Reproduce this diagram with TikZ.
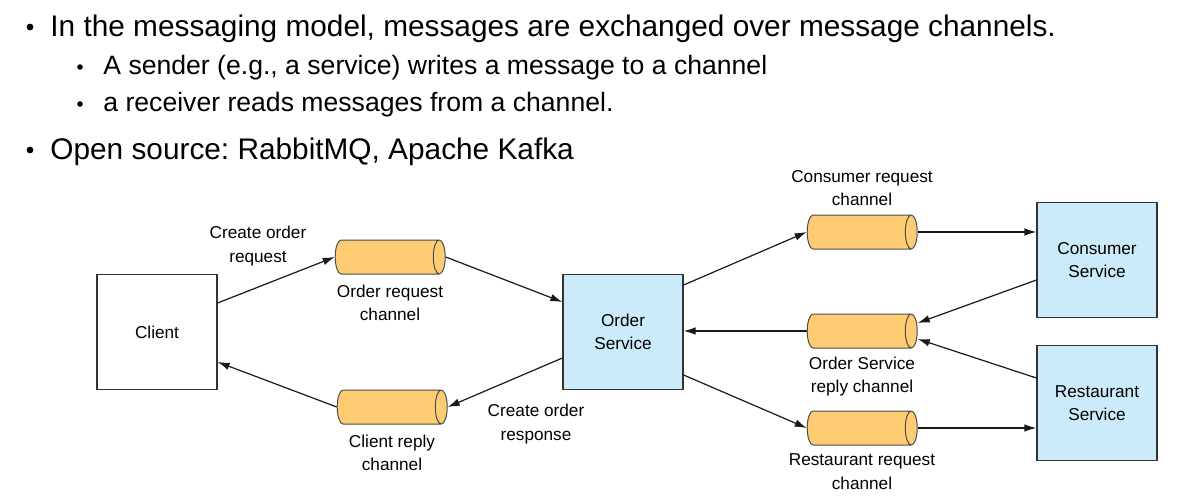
\documentclass[tikz,border=0pt]{standalone}
\usepackage{fontspec}
\setmainfont{Liberation Sans}
\usetikzlibrary{positioning}
\usetikzlibrary{arrows,arrows.meta,shapes}
\usetikzlibrary{calc}
\definecolor{svcblue}{RGB}{204,235,250}
\definecolor{chanorange}{RGB}{254,204,115}
\frenchspacing

\begin{document}
\begin{tikzpicture}
  [x=0.5pt,y=-0.5pt,>={Latex[length=6pt,width=3.8pt]},
  dot/.style={circle,fill=black,inner sep=0pt,minimum size=3.4pt},
  smalldot/.style={circle,fill=black,inner sep=0pt,minimum size=2.8pt},
  mainline/.style={anchor=base west,inner sep=0pt,font=\fontsize{14.9}{17}\selectfont},
  subline/.style={anchor=base west,inner sep=0pt,font=\fontsize{13.3}{15}\selectfont},
  box/.style={rectangle,draw=black!80,fill=white,line width=0.6pt,minimum width=60pt,minimum height=57.5pt,inner sep=0pt,align=center,font=\fontsize{8.6}{11.8}\selectfont},
  service/.style={box,fill=svcblue},
  chan/.style={cylinder,draw=black!70,line width=0.5pt,cylinder uses custom fill,cylinder body fill=chanorange,cylinder end fill=chanorange,minimum width=17pt,minimum height=55pt,aspect=0.35,inner xsep=0pt,inner ysep=8.5pt},
  lbl/.style={align=center,inner sep=0pt,font=\fontsize{8.6}{11.8}\selectfont},
  chanlbl/.style={lbl,xshift=3pt},
  flow/.style={->,black!90,line width=0.6pt}]
  \useasboundingbox (0,0) rectangle (1186,497);

  % bullet text
  \node[dot] (b1) at (30,27) {};
  \node[mainline] (t1) at (50,37) {In the messaging model, messages are exchanged over message channels.};
  \node[smalldot] (b2) at (80,67) {};
  \node[subline] (t2) at (103,75) {A sender (e.g., a service) writes a message to a channel};
  \node[smalldot] (b3) at (80,104) {};
  \node[subline] (t3) at (103,112) {a receiver reads messages from a channel.};
  \node[dot] (b4) at (30,150) {};
  \node[mainline] (t4) at (50,160) {Open source: RabbitMQ, Apache Kafka};

  % services
  \node[box] (client) at (157,332) {Client};
  \node[service] (order) at (623,332) {Order\\Service};
  \node[service] (consumer) at (1097,260) {Consumer\\Service};
  \node[service] (restaurant) at (1097,403) {Restaurant\\Service};

  % channels
  \node[chan] (orderreq) at (384,257) {};
  \node[chan] (clientrep) at (386,407) {};
  \node[chan] (consreq) at (856,232) {};
  \node[chan] (osrep) at (856,331) {};
  \node[chan] (restreq) at (856,428) {};

  \node[chanlbl,below=5pt of orderreq] (orderreqlbl) {Order request\\channel};
  \node[chanlbl,below=5pt of clientrep] (clientreplbl) {Client reply\\channel};
  \node[chanlbl,above=4pt of consreq] (consreqlbl) {Consumer request\\channel};
  \node[chanlbl,below=4pt of osrep] (osreplbl) {Order Service\\reply channel};
  \node[chanlbl,below=4pt of restreq] (restreqlbl) {Restaurant request\\channel};

  \node[lbl] (createreq) at (258,246) {Create order\\request};
  \node[lbl] (createresp) at (536,424) {Create order\\response};

  % messages
  \draw[flow] ($(client.east)+(0,-29)$) -- (orderreq.west);
  \draw[flow] (orderreq.east) -- ($(order.west)+(0,-30)$);
  \draw[flow] ($(order.west)+(0,26)$) -- (clientrep.east);
  \draw[flow] (clientrep.west) -- ($(client.east)+(0,30)$);
  \draw[flow] ($(order.east)+(0,-47)$) -- (consreq.west);
  \draw[flow] (consreq.east) -- (consreq.east -| consumer.west);
  \draw[flow] ($(consumer.west)+(0,20)$) -- ($(osrep.east)+(0,-8)$);
  \draw[flow] ($(restaurant.west)+(0,-25)$) -- ($(osrep.east)+(0,8)$);
  \draw[flow] (osrep.west) -- (osrep.west -| order.east);
  \draw[flow] ($(order.east)+(0,43)$) -- (restreq.west);
  \draw[flow] (restreq.east) -- (restreq.east -| restaurant.west);
\end{tikzpicture}
\end{document}
